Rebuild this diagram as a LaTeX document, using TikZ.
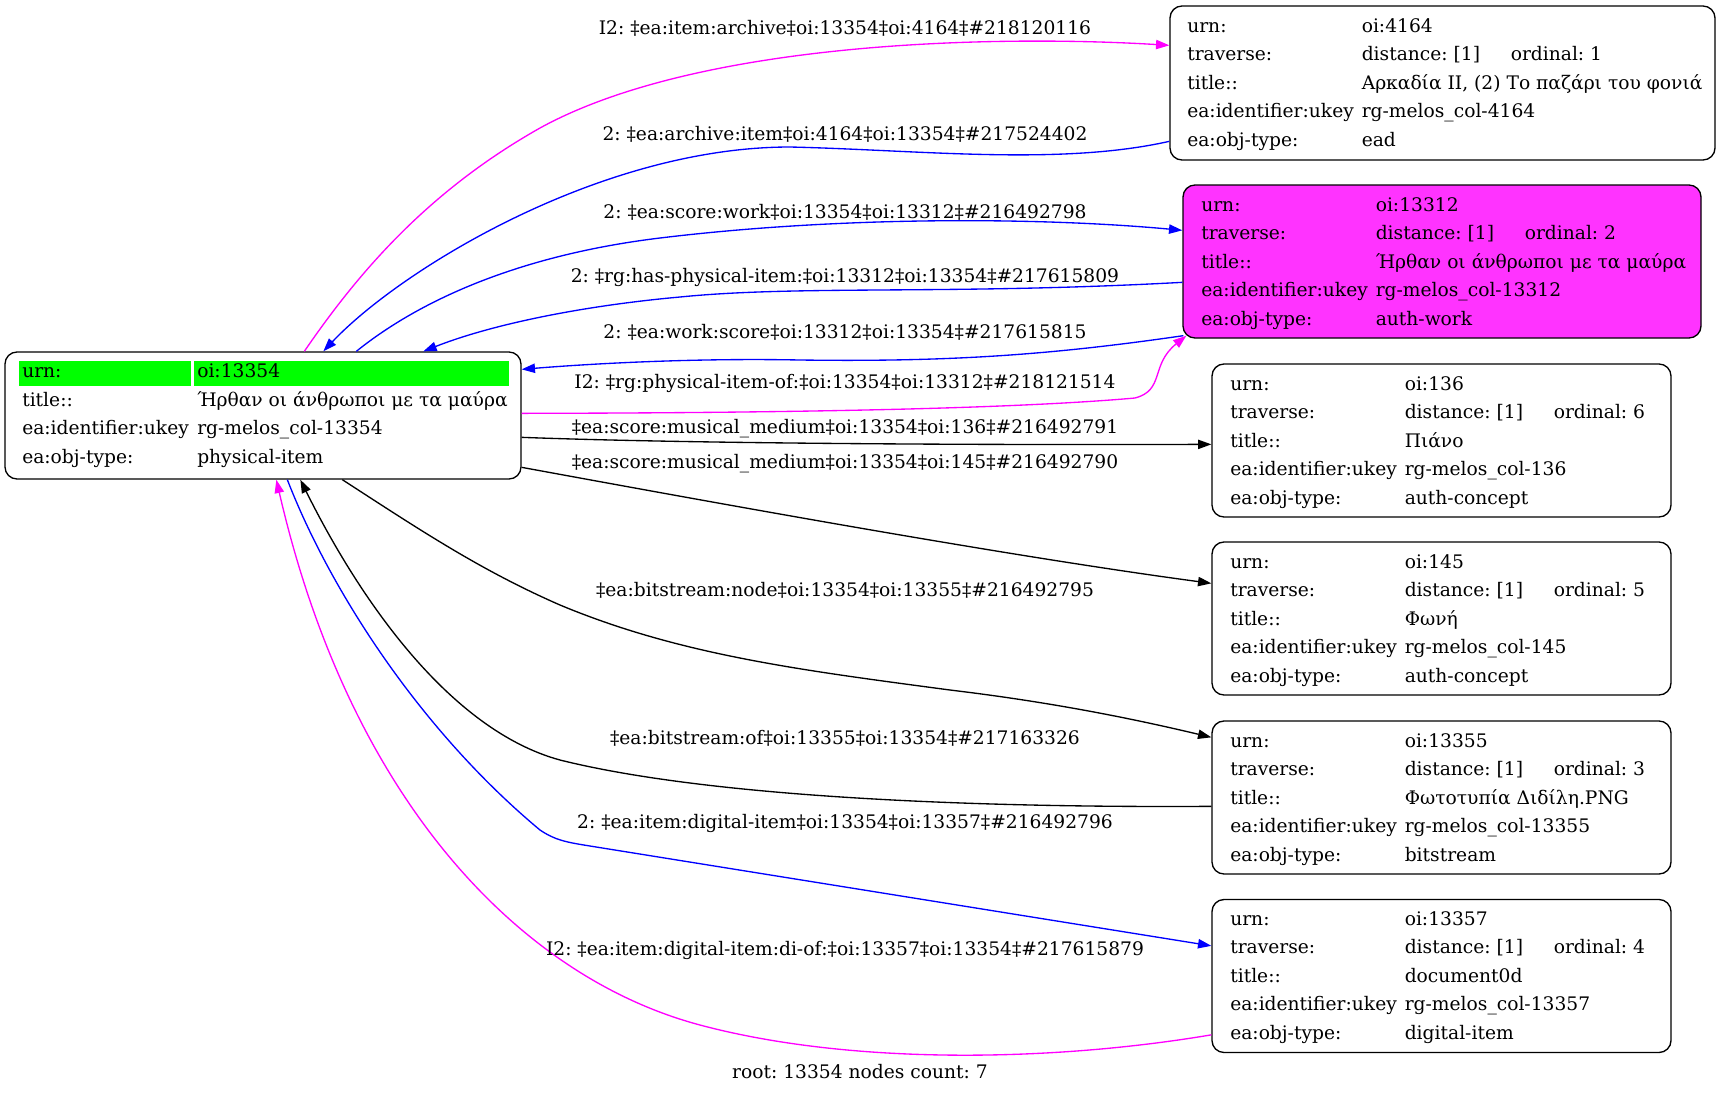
\documentclass[tikz,border=0pt]{standalone}
\usepackage{fontspec}
\setmainfont{DejaVu Serif}
\usetikzlibrary{arrows.meta,calc}
\definecolor{gvgreen}{RGB}{0,255,0}
\definecolor{gvmag}{RGB}{255,0,255}
\definecolor{gvfill}{RGB}{255,51,255}
\definecolor{gvblue}{RGB}{0,0,255}
\newcommand\gvrec[7]{%
 \node[txt] at (#1,#2+26) {urn:};
 \node[txt] at (#1+174.5,#2+26) {#3};
 \node[txt] at (#1,#2+54.5) {traverse:};
 \node[txt] at (#1+174.5,#2+54.5) {distance: [1]};
 \node[txt] at (#1+323.5,#2+54.5) {ordinal: #4};
 \node[txt] at (#1,#2+83) {title::};
 \node[txt] at (#1+174.5,#2+83) {#5};
 \node[txt] at (#1,#2+111.5) {ea:identifier:ukey};
 \node[txt] at (#1+174.5,#2+111.5) {#6};
 \node[txt] at (#1,#2+140) {ea:obj-type:};
 \node[txt] at (#1+174.5,#2+140) {#7};
}
\begin{document}
\frenchspacing
\begin{tikzpicture}[x=0.75pt,y=-0.75pt,
  font=\fontsize{14}{16}\selectfont\frenchspacing,
  recbox/.style={draw=black, line width=1pt, rounded corners=9pt, inner sep=0pt},
  txt/.style={anchor=base west, inner sep=0pt},
  elab/.style={anchor=base, inner sep=0pt},
  conn/.style={line width=1pt, -{Triangle[length=10pt,width=7pt]}},
]
\fill[white] (0,0) rectangle (1719,1093);
\useasboundingbox (0,0) rectangle (1719,1093);

% record boxes
\node[recbox, minimum width=387pt, minimum height=95.25pt] (root) at (263,415.5) {};
\node[recbox, minimum width=408.75pt, minimum height=115.5pt] (n4164) at (1442.5,83) {};
\node[recbox, fill=gvfill, minimum width=388.5pt, minimum height=114.75pt] (n13312) at (1442,261.5) {};
\node[recbox, minimum width=344.25pt, minimum height=114.75pt] (n136) at (1441.5,440.5) {};
\node[recbox, minimum width=344.25pt, minimum height=114.75pt] (n145) at (1441.5,618.5) {};
\node[recbox, minimum width=344.25pt, minimum height=114.75pt] (n13355) at (1441.5,797.5) {};
\node[recbox, minimum width=344.25pt, minimum height=114.75pt] (n13357) at (1441.5,976) {};

% root contents
\fill[gvgreen] (19,361) rectangle (191,386);
\fill[gvgreen] (194,361) rectangle (509,386);
\node[txt] at (22,377.5) {urn:};
\node[txt] at (197,377.5) {oi:13354};
\node[txt] at (22,406) {title::};
\node[txt] at (197,406) {Ήρθαν οι άνθρωποι με τα μαύρα};
\node[txt] at (22,434.5) {ea:identifier:ukey};
\node[txt] at (197,434.5) {rg-melos\_col-13354};
\node[txt] at (22,463) {ea:obj-type:};
\node[txt] at (197,463) {physical-item};

% other records
\gvrec{1187}{6}{oi:4164}{1}{Αρκαδία II, (2) Το παζάρι του φονιά}{rg-melos\_col-4164}{ead}
\gvrec{1201}{185}{oi:13312}{2}{Ήρθαν οι άνθρωποι με τα μαύρα}{rg-melos\_col-13312}{auth-work}
\gvrec{1230}{364}{oi:136}{6}{Πιάνο}{rg-melos\_col-136}{auth-concept}
\gvrec{1230}{542}{oi:145}{5}{Φωνή}{rg-melos\_col-145}{auth-concept}
\gvrec{1230}{721}{oi:13355}{3}{Φωτοτυπία Διδίλη.PNG}{rg-melos\_col-13355}{bitstream}
\gvrec{1230}{899}{oi:13357}{4}{document0d}{rg-melos\_col-13357}{digital-item}

% connectors
\draw[conn, gvmag] ($(root.north west)+(300,0)$) .. controls (360,270) and (430,190) .. (540,128)
  .. controls (700,40) and (1000,35) .. ($(n4164.north west)+(0,40)$);
\draw[conn, gvblue] ($(n4164.north west)+(0,136)$) .. controls (1060,166) and (920,150) .. (790,147)
  .. controls (600,147) and (400,270) .. ($(root.north west)+(319,0)$);
\draw[conn, gvblue] ($(root.north west)+(352,0)$) .. controls (420,300) and (520,255) .. (660,238)
  .. controls (850,215) and (1050,218) .. ($(n13312.north west)+(0,46)$);
\draw[conn, gvblue] ($(n13312.north west)+(0,98)$) .. controls (950,295) and (800,285) .. (680,297)
  .. controls (580,306) and (490,325) .. ($(root.north west)+(419,0)$);
\draw[conn, gvblue] ($(n13312.south west)+(1,-3)$) .. controls (1050,355) and (950,362) .. (800,360)
  .. controls (700,358) and (600,363) .. ($(root.north east)+(0,18)$);
\draw[conn, gvmag] ($(root.north east)+(0,62)$) .. controls (750,413) and (1000,410) .. (1135,398)
  .. controls (1165,390) and (1150,365) .. ($(n13312.south west)+(4,-3)$);
\draw[conn, black] ($(root.north east)+(0,86)$) .. controls (700,444) and (1000,445) .. ($(n136.north west)+(0,81)$);
\draw[conn, black] ($(root.north east)+(0,116)$) .. controls (700,500) and (1000,555) .. ($(n145.north west)+(0,42)$);
\draw[conn, black] ($(root.south west)+(338,0)$) .. controls (420,530) and (480,570) .. (560,605)
  .. controls (680,655) and (800,670) .. (950,690) .. controls (1050,702) and (1130,718) .. ($(n13355.north west)+(0,17)$);
\draw[conn, black] ($(n13355.north west)+(0,86)$) .. controls (950,808) and (700,795) .. (560,760)
  .. controls (450,730) and (360,600) .. ($(root.south west)+(296,0)$);
\draw[conn, gvblue] ($(root.south west)+(283,0)$) .. controls (330,590) and (420,730) .. (540,830)
  .. controls (555,840) and (565,842) .. (590,846) -- ($(n13357.north west)+(0,47)$);
\draw[conn, gvmag] ($(n13357.north west)+(0,136)$) .. controls (1050,1062) and (850,1065) .. (700,1025)
  .. controls (520,977) and (350,800) .. ($(root.south west)+(272,0)$);

% connector labels
\node[elab] (l1) at (845,34) {I2: ‡ea:item:archive‡oi:13354‡oi:4164‡\#218120116};
\node[elab] (l2) at (845,140) {2: ‡ea:archive:item‡oi:4164‡oi:13354‡\#217524402};
\node[elab] (l3) at (845,218) {2: ‡ea:score:work‡oi:13354‡oi:13312‡\#216492798};
\node[elab] (l4) at (845,282) {2: ‡rg:has-physical-item:‡oi:13312‡oi:13354‡\#217615809};
\node[elab] (l5) at (845,338) {2: ‡ea:work:score‡oi:13312‡oi:13354‡\#217615815};
\node[elab] (l6) at (845,388) {I2: ‡rg:physical-item-of:‡oi:13354‡oi:13312‡\#218121514};
\node[elab] (l7) at (845,433) {‡ea:score:musical\_medium‡oi:13354‡oi:136‡\#216492791};
\node[elab] (l8) at (845,468) {‡ea:score:musical\_medium‡oi:13354‡oi:145‡\#216492790};
\node[elab] (l9) at (845,596) {‡ea:bitstream:node‡oi:13354‡oi:13355‡\#216492795};
\node[elab] (l10) at (845,744) {‡ea:bitstream:of‡oi:13355‡oi:13354‡\#217163326};
\node[elab] (l11) at (845,828) {2: ‡ea:item:digital-item‡oi:13354‡oi:13357‡\#216492796};
\node[elab] (l12) at (845,955) {I2: ‡ea:item:digital-item:di-of:‡oi:13357‡oi:13354‡\#217615879};
\node[elab] (footer) at (860,1078) {root: 13354 nodes count: 7};
\end{tikzpicture}
\end{document}
